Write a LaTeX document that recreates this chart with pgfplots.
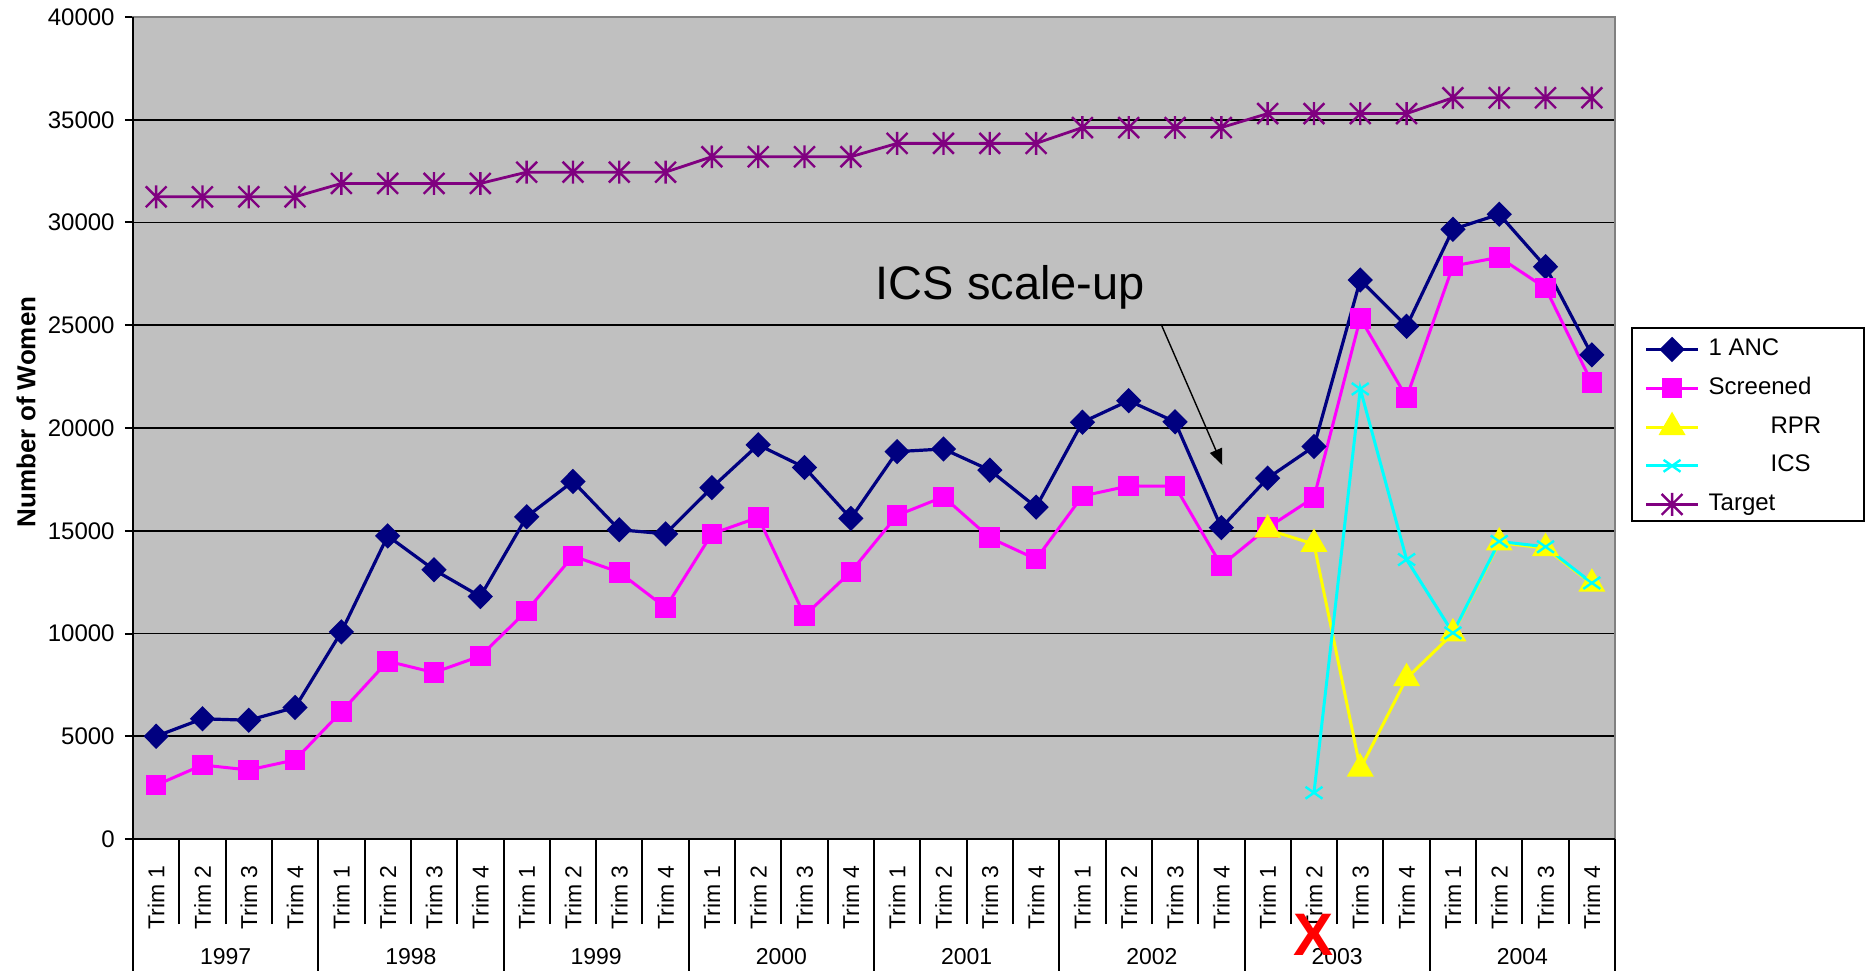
\documentclass[border=0pt]{standalone}
\usepackage{fontspec}
\setmainfont{Liberation Sans}
\usepackage{pgfplots}
\pgfplotsset{compat=1.18}
\usetikzlibrary{arrows.meta}

\definecolor{ancblue}{HTML}{000080}
\definecolor{scrpink}{HTML}{FF00FF}
\definecolor{rpryellow}{HTML}{FFFF00}
\definecolor{icscyan}{HTML}{00FFFF}
\definecolor{tgtpurple}{HTML}{800080}
\definecolor{plotgray}{HTML}{C0C0C0}
\definecolor{framegray}{HTML}{808080}

% six-armed star: an x with a vertical bar through it
\pgfdeclareplotmark{starx}{%
  \pgfpathmoveto{\pgfqpoint{0pt}{1.1\pgfplotmarksize}}%
  \pgfpathlineto{\pgfqpoint{0pt}{-1.1\pgfplotmarksize}}%
  \pgfpathmoveto{\pgfqpoint{-\pgfplotmarksize}{-\pgfplotmarksize}}%
  \pgfpathlineto{\pgfqpoint{\pgfplotmarksize}{\pgfplotmarksize}}%
  \pgfpathmoveto{\pgfqpoint{-\pgfplotmarksize}{\pgfplotmarksize}}%
  \pgfpathlineto{\pgfqpoint{\pgfplotmarksize}{-\pgfplotmarksize}}%
  \pgfusepathqstroke}

\newcommand{\lblfont}{\fontsize{11.5}{13}\selectfont}

\begin{document}
\begin{tikzpicture}
\begin{axis}[
  at={(0pt,0pt)}, anchor=south west,
  scale only axis, width=741pt, height=411pt,
  xmin=-0.5, xmax=31.5, ymin=0, ymax=40000,
  clip=false,
  axis background/.style={fill=plotgray},
  axis line style={draw=framegray, line width=1pt},
  tick pos=left,
  ytick={0,5000,...,40000},
  ymajorgrids,
  major grid style={black, line width=0.9pt},
  scaled y ticks=false,
  /pgf/number format/assume math mode=true,
  /pgf/number format/1000 sep={},
  tick align=outside,
  major tick length=4pt,
  ytick style={black, line width=1pt},
  yticklabel style={font=\fontsize{12}{14}\selectfont, inner sep=0pt, anchor=east, xshift=-5pt},
  xtick={0,...,31},
  xticklabels={Trim 1,Trim 2,Trim 3,Trim 4,Trim 1,Trim 2,Trim 3,Trim 4,
               Trim 1,Trim 2,Trim 3,Trim 4,Trim 1,Trim 2,Trim 3,Trim 4,
               Trim 1,Trim 2,Trim 3,Trim 4,Trim 1,Trim 2,Trim 3,Trim 4,
               Trim 1,Trim 2,Trim 3,Trim 4,Trim 1,Trim 2,Trim 3,Trim 4},
  xtick style={draw=none},
  xticklabel style={font=\lblfont, yshift=-9pt, rotate=90, anchor=east, inner sep=0pt},
  extra x ticks={-0.5,0.5,...,31.5},
  extra x tick labels={},
  extra x tick style={major tick length=42.5pt, xtick style={draw=black, line width=1pt}},
  ylabel={Number of Women},
  ylabel style={font=\bfseries\fontsize{13}{15}\selectfont,
                at={(axis description cs:-0.0722,0.5195)}, anchor=center},
  legend cell align=left,
  legend image code/.code={\draw[mark repeat=2,mark phase=2,#1]
      plot coordinates {(0pt,0pt) (13pt,0pt) (26pt,0pt)};},
  legend style={draw=none, fill=none,
      at={(axis description cs:1.0115,0.6221)}, anchor=north west,
      inner xsep=6pt, inner ysep=4.7pt, row sep=7.3pt, column sep=4.5pt,
      font=\fontsize{12}{14}\selectfont,
      nodes={inner sep=0pt, text height=9pt, text depth=3pt}},
]

% 1 ANC
\addplot[ancblue, line width=1.6pt, mark=diamond*, mark size=5.2pt,
         mark options={xscale=1.33, solid}] coordinates {
  (0,5000) (1,5850) (2,5780) (3,6400)
  (4,10080) (5,14750) (6,13100) (7,11800)
  (8,15680) (9,17400) (10,15050) (11,14850)
  (12,17100) (13,19180) (14,18080) (15,15600)
  (16,18850) (17,18980) (18,17950) (19,16150)
  (20,20280) (21,21330) (22,20300) (23,15150)
  (24,17560) (25,19100) (26,27200) (27,24950)
  (28,29670) (29,30400) (30,27850) (31,23560)};
\addlegendentry{1 ANC}

% Screened
\addplot[scrpink, line width=1.5pt, mark=square*, mark size=4.4pt,
         mark options={solid}] coordinates {
  (0,2620) (1,3600) (2,3360) (3,3850)
  (4,6200) (5,8650) (6,8100) (7,8900)
  (8,11100) (9,13770) (10,12980) (11,11260)
  (12,14850) (13,15650) (14,10870) (15,13000)
  (16,15750) (17,16650) (18,14660) (19,13620)
  (20,16690) (21,17180) (22,17170) (23,13310)
  (24,15150) (25,16620) (26,25340) (27,21490)
  (28,27880) (29,28310) (30,26810) (31,22200)};
\addlegendentry{Screened}

% RPR
\addplot[rpryellow, line width=1.5pt, mark=triangle*, mark size=6.3pt,
         mark options={solid}] coordinates {
  (24,15050) (25,14350) (26,3420) (27,7820)
  (28,10000) (29,14420) (30,14150) (31,12420)};
\addlegendentry{\hspace*{31pt}RPR}

% ICS
\addplot[icscyan, line width=1.5pt, mark=x, mark size=6pt,
         mark options={solid, yscale=0.7, line width=1.2pt}] coordinates {
  (25,2250) (26,21900) (27,13600)
  (28,10030) (29,14480) (30,14220) (31,12460)};
\addlegendentry{\hspace*{31pt}ICS}

% Target
\addplot[tgtpurple, line width=1.4pt, mark=starx, mark size=5.2pt,
         mark options={solid, line width=1.2pt}] coordinates {
  (0,31250) (1,31250) (2,31250) (3,31250)
  (4,31900) (5,31900) (6,31900) (7,31900)
  (8,32450) (9,32450) (10,32450) (11,32450)
  (12,33200) (13,33200) (14,33200) (15,33200)
  (16,33850) (17,33850) (18,33850) (19,33850)
  (20,34620) (21,34620) (22,34620) (23,34620)
  (24,35300) (25,35300) (26,35300) (27,35300)
  (28,36070) (29,36070) (30,36070) (31,36070)};
\addlegendentry{Target}

% black left and bottom axis lines
\draw[black, line width=1.4pt] (rel axis cs:0,1) -- (rel axis cs:0,0) -- (rel axis cs:1,0);

% year separators and year labels
\draw[black, line width=1pt] (axis cs:-0.5,0) -- ++(0pt,-80pt);
\draw[black, line width=1pt] (axis cs:3.5,0) -- ++(0pt,-80pt);
\draw[black, line width=1pt] (axis cs:7.5,0) -- ++(0pt,-80pt);
\draw[black, line width=1pt] (axis cs:11.5,0) -- ++(0pt,-80pt);
\draw[black, line width=1pt] (axis cs:15.5,0) -- ++(0pt,-80pt);
\draw[black, line width=1pt] (axis cs:19.5,0) -- ++(0pt,-80pt);
\draw[black, line width=1pt] (axis cs:23.5,0) -- ++(0pt,-80pt);
\draw[black, line width=1pt] (axis cs:27.5,0) -- ++(0pt,-80pt);
\draw[black, line width=1pt] (axis cs:31.5,0) -- ++(0pt,-80pt);
\node[font=\lblfont, yshift=-59pt] at (axis cs:1.5,0) {1997};
\node[font=\lblfont, yshift=-59pt] at (axis cs:5.5,0) {1998};
\node[font=\lblfont, yshift=-59pt] at (axis cs:9.5,0) {1999};
\node[font=\lblfont, yshift=-59pt] at (axis cs:13.5,0) {2000};
\node[font=\lblfont, yshift=-59pt] at (axis cs:17.5,0) {2001};
\node[font=\lblfont, yshift=-59pt] at (axis cs:21.5,0) {2002};
\node[font=\lblfont, yshift=-59pt] at (axis cs:25.5,0) {2003};
\node[font=\lblfont, yshift=-59pt] at (axis cs:29.5,0) {2004};

% annotation
\node[anchor=base, font=\fontsize{23.5}{28}\selectfont, inner sep=0pt]
  at (axis cs:18.44,26260) {ICS scale-up};
\draw[black, line width=0.7pt, -{Triangle[length=8pt,width=6.5pt]}]
  (axis cs:21.7,25050) -- (axis cs:23.02,18200);

% legend frame
\draw[black, line width=1pt] (axis description cs:1.0115,0.6221) rectangle ++(116pt,-96.5pt);

\coordinate (redx) at (axis cs:25,0);
\end{axis}
\node[text=red, font=\bfseries\fontsize{30}{30}\selectfont, inner sep=0pt]
  at ([yshift=-47.75pt]redx) {X};
\pgfresetboundingbox
\path[use as bounding box] (-66.5pt,-65.5pt) rectangle (867.5pt,419.5pt);
\end{tikzpicture}
\end{document}
